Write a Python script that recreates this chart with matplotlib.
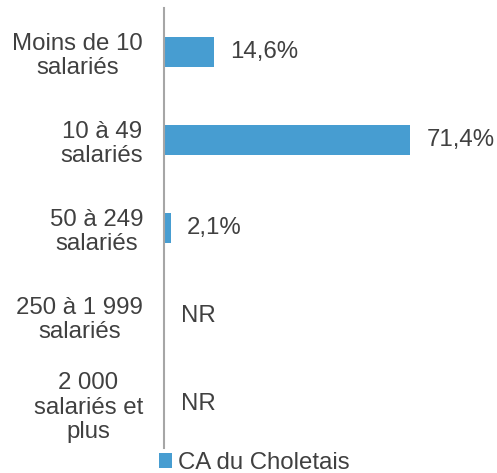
import numpy as np
import matplotlib.pyplot as plt
from matplotlib.patches import Patch

# data
categories = ["Moins de 10\nsalariés", "10 à 49\nsalariés", "50 à 249\nsalariés",
              "250 à 1 999\nsalariés", "2 000\nsalariés et\nplus"]
values = [14.6, 71.4, 2.1, None, None]  # None -> "NR"
series_name = "CA du Choletais"

bar_color = "#479DD1"
text_color = "#404040"
axis_color = "#A6A6A6"
fs = 17.3

plt.rcParams['font.family'] = ['Liberation Sans', 'DejaVu Sans']

W, H = 497, 473
fig = plt.figure(figsize=(W / 100, H / 100), dpi=100)
# axes box in pixel coordinates
left, right, top, bottom = 164, 440, 8, 448
ax = fig.add_axes([left / W, 1 - bottom / H, (right - left) / W, (bottom - top) / H])

y = np.arange(len(categories))
vals = np.array([np.nan if v is None else v for v in values])
ax.barh(y, np.nan_to_num(vals), height=0.35, color=bar_color)

for yi, v in zip(y, values):
    if v is None:
        ax.annotate("NR", (0, yi), xytext=(17 * 0.72, 0), textcoords='offset points',
                    va='center', ha='left', fontsize=fs, color=text_color)
    else:
        ax.annotate(f"{v:.1f}%".replace('.', ','), (v, yi), xytext=(16 * 0.72, 0),
                    textcoords='offset points', va='center', ha='left',
                    fontsize=fs, color=text_color)

ax.set_ylim(len(categories) - 0.5, -0.5)
ax.set_xlim(0, 80)
ax.set_yticks(y)
ax.set_yticklabels(categories, fontsize=fs, color=text_color, multialignment='center',
                   linespacing=1.15)
ax.tick_params(axis='y', length=0, pad=21 * 0.72)
ax.set_xticks([])
for s in ['top', 'right', 'bottom']:
    ax.spines[s].set_visible(False)
ax.spines['left'].set_color(axis_color)
ax.spines['left'].set_linewidth(1.5)

handle = Patch(facecolor=bar_color, edgecolor='none')
fig.legend([handle], [series_name], loc='center left',
           bbox_to_anchor=(159 / W, 1 - 463 / H), frameon=False, fontsize=fs,
           handlelength=0.55, handleheight=0.55, handletextpad=0.25,
           borderpad=0, borderaxespad=0, labelcolor=text_color)

fig.savefig("out.png", dpi=100)
